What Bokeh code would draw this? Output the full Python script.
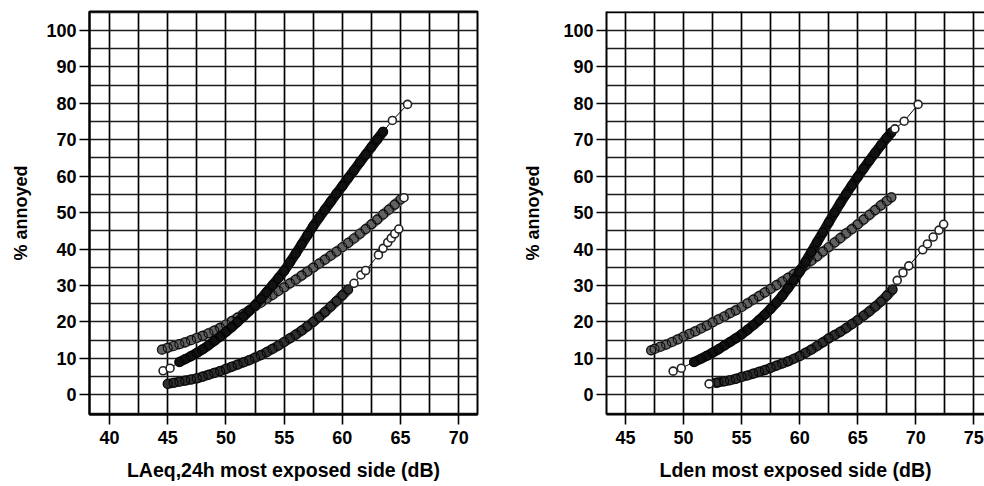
from bokeh.plotting import figure
from bokeh.layouts import row
from bokeh.models import FixedTicker, Range1d, Span
from bokeh.embed import file_html
from bokeh.resources import INLINE

# ---------------- data ----------------
pct_ticks = [0, 10, 20, 30, 40, 50, 60, 70, 80, 90, 100]
laeq_ticks = [40, 45, 50, 55, 60, 65, 70]
lden_ticks = [45, 50, 55, 60, 65, 70, 75]

# Left panel: LAeq,24h most exposed side
laeq_air_band_x = [46.0, 46.5, 47.0, 47.5, 48.0, 48.5, 49.0, 49.5, 50.0, 50.5, 51.0, 51.5,
                   52.0, 52.5, 53.0, 53.5, 54.0, 54.5, 55.0, 55.5, 56.0, 56.5, 57.0, 57.5,
                   58.0, 58.5, 59.0, 59.5, 60.0, 60.5, 61.0, 61.5, 62.0, 62.5, 63.0, 63.5]
laeq_air_band_y = [9.0, 9.8, 10.6, 11.5, 12.5, 13.6, 14.8, 16.0, 17.3, 18.6, 20.0, 21.5,
                   23.0, 24.6, 26.3, 28.2, 30.1, 32.0, 34.0, 36.4, 38.8, 41.3, 43.8, 46.3,
                   48.6, 50.8, 53.0, 55.2, 57.3, 59.5, 61.6, 63.8, 65.9, 68.0, 70.1, 72.2]
laeq_air_single_x = [44.6, 45.2, 64.3, 65.6]
laeq_air_single_y = [6.6, 7.3, 75.3, 79.7]

laeq_road_band_x = [44.5, 45.0, 45.5, 46.0, 46.5, 47.0, 47.5, 48.0, 48.5, 49.0, 49.5, 50.0,
                    50.5, 51.0, 51.5, 52.0, 52.5, 53.0, 53.5, 54.0, 54.5, 55.0, 55.5, 56.0,
                    56.5, 57.0, 57.5, 58.0, 58.5, 59.0, 59.5, 60.0, 60.5, 61.0, 61.5, 62.0,
                    62.5, 63.0, 63.5, 64.0, 64.5, 65.0]
laeq_road_band_y = [12.4, 12.9, 13.4, 13.9, 14.4, 15.0, 15.6, 16.2, 16.9, 17.6, 18.4, 19.3,
                    20.2, 21.2, 22.2, 23.2, 24.3, 25.3, 26.4, 27.4, 28.5, 29.5, 30.6, 31.6,
                    32.7, 33.8, 34.9, 36.0, 37.1, 38.2, 39.3, 40.5, 41.7, 42.9, 44.2, 45.5,
                    46.8, 48.1, 49.5, 50.8, 52.2, 53.6]
laeq_road_single_x = [65.3]
laeq_road_single_y = [54.1]

laeq_rail_band_x = [45.0, 45.5, 46.0, 46.5, 47.0, 47.5, 48.0, 48.5, 49.0, 49.5, 50.0, 50.5,
                    51.0, 51.5, 52.0, 52.5, 53.0, 53.5, 54.0, 54.5, 55.0, 55.5, 56.0, 56.5,
                    57.0, 57.5, 58.0, 58.5, 59.0, 59.5, 60.0, 60.5]
laeq_rail_band_y = [3.0, 3.3, 3.6, 3.9, 4.2, 4.5, 5.0, 5.5, 6.0, 6.5, 7.1, 7.7,
                    8.3, 8.9, 9.5, 10.2, 10.9, 11.7, 12.6, 13.5, 14.5, 15.5, 16.5, 17.6,
                    18.8, 20.0, 21.3, 22.7, 24.2, 25.7, 27.3, 28.9]
laeq_rail_single_x = [61.0, 61.6, 62.0, 63.1, 63.5, 63.9, 64.2, 64.5, 64.85]
laeq_rail_single_y = [30.6, 32.9, 34.1, 38.4, 40.2, 41.8, 43.0, 44.2, 45.5]

# Right panel: Lden most exposed side
lden_air_band_x = [50.9, 51.5, 52.0, 52.5, 53.0, 53.5, 54.0, 54.5, 55.0, 55.5, 56.0, 56.5,
                   57.0, 57.5, 58.0, 58.5, 59.0, 59.5, 60.0, 60.5, 61.0, 61.5, 62.0, 62.5,
                   63.0, 63.5, 64.0, 64.5, 65.0, 65.5, 66.0, 66.5, 67.0, 67.5, 67.9]
lden_air_band_y = [9.0, 9.9, 10.7, 11.6, 12.5, 13.5, 14.5, 15.5, 16.6, 17.8, 19.1, 20.5,
                   22.0, 23.6, 25.3, 27.2, 29.3, 31.5, 33.8, 36.5, 39.2, 41.9, 44.6, 47.3,
                   50.0, 52.6, 55.1, 57.5, 59.8, 62.1, 64.3, 66.4, 68.5, 70.5, 72.0]
lden_air_single_x = [49.1, 49.8, 68.2, 69.0, 70.2]
lden_air_single_y = [6.5, 7.3, 73.0, 75.1, 79.7]

lden_road_band_x = [47.2, 47.5, 48.0, 48.5, 49.0, 49.5, 50.0, 50.5, 51.0, 51.5, 52.0, 52.5,
                    53.0, 53.5, 54.0, 54.5, 55.0, 55.5, 56.0, 56.5, 57.0, 57.5, 58.0, 58.5,
                    59.0, 59.5, 60.0, 60.5, 61.0, 61.5, 62.0, 62.5, 63.0, 63.5, 64.0, 64.5,
                    65.0, 65.5, 66.0, 66.5, 67.0, 67.5, 67.9]
lden_road_band_y = [12.2, 12.6, 13.2, 13.8, 14.5, 15.2, 16.0, 16.7, 17.4, 18.2, 19.0, 19.9,
                    20.7, 21.5, 22.4, 23.2, 24.1, 25.1, 26.1, 27.1, 28.1, 29.1, 30.1, 31.1,
                    32.1, 33.1, 34.2, 35.5, 36.8, 38.0, 39.3, 40.5, 41.8, 43.0, 44.3, 45.5,
                    46.8, 48.1, 49.4, 50.7, 52.0, 53.2, 54.2]
lden_road_single_x = []
lden_road_single_y = []

lden_rail_band_x = [52.8, 53.0, 53.5, 54.0, 54.5, 55.0, 55.5, 56.0, 56.5, 57.0, 57.5, 58.0,
                    58.5, 59.0, 59.5, 60.0, 60.5, 61.0, 61.5, 62.0, 62.5, 63.0, 63.5, 64.0,
                    64.5, 65.0, 65.5, 66.0, 66.5, 67.0, 67.5, 68.0]
lden_rail_band_y = [3.3, 3.4, 3.7, 4.0, 4.4, 4.9, 5.3, 5.8, 6.3, 6.8, 7.4, 8.0,
                    8.6, 9.2, 9.9, 10.6, 11.5, 12.4, 13.4, 14.4, 15.5, 16.4, 17.3, 18.3,
                    19.4, 20.5, 21.7, 22.9, 24.2, 25.6, 27.2, 28.9]
lden_rail_single_x = [52.2, 68.4, 68.9, 69.4, 70.6, 71.0, 71.5, 72.0, 72.4]
lden_rail_single_y = [3.0, 31.4, 33.5, 35.4, 39.8, 41.4, 43.3, 45.2, 46.8]

# ---------------- styling ----------------
FONT = "Liberation Sans"
BAND_COLORS = {"air": "#111111", "road": "#626262", "rail": "#303030"}


def grid_positions(ticks, step):
    out = set()
    for t in ticks:
        out.add(t)
        out.add(t - step)
        out.add(t + step)
    return sorted(out)


def add_curve(p, bx, by, sx, sy, color):
    pts = sorted(list(zip(bx, by)) + list(zip(sx, sy)))
    p.line([a for a, _ in pts], [b for _, b in pts], line_color="black", line_width=1)
    p.line(bx, by, line_color=color, line_width=10, line_cap="round", line_join="round")
    p.scatter(bx, by, marker="circle", size=9, fill_color=None,
              line_color="black", line_width=1.2, line_alpha=0.85)
    if sx:
        p.scatter(sx, sy, marker="circle", size=8, fill_color="white",
                  line_color="#222222", line_width=1.6)


def make_panel(width, x0, x1, xticks, xlabel, border_left, border_right,
               ylabel_standoff, curves, outline=True):
    p = figure(width=width, height=486, x_range=Range1d(x0, x1),
               y_range=Range1d(-5.4, 105.2), output_backend="svg",
               toolbar_location=None, min_border_left=border_left,
               min_border_right=border_right, min_border_top=11, min_border_bottom=72)
    p.background_fill_color = "white"
    p.border_fill_color = "white"
    if outline:
        p.outline_line_color = "black"
        p.outline_line_width = 2
    else:
        p.outline_line_color = None
        p.add_layout(Span(location=105.2, dimension="width", line_color="black",
                          line_width=3))

    p.xaxis.ticker = FixedTicker(ticks=xticks)
    p.yaxis.ticker = FixedTicker(ticks=pct_ticks)
    p.xgrid.ticker = FixedTicker(ticks=grid_positions(xticks, 2.5))
    p.ygrid.ticker = FixedTicker(ticks=grid_positions(pct_ticks, 5))
    p.xgrid.grid_line_color = "black"
    p.xgrid.grid_line_width = 1.7
    p.ygrid.grid_line_color = "#1c1c1c"
    p.ygrid.grid_line_width = 1.7

    for ax in (p.xaxis[0], p.yaxis[0]):
        ax.axis_line_color = "black"
        ax.axis_line_width = 2
        ax.major_tick_line_color = "black"
        ax.major_tick_line_width = 1.6
        ax.major_tick_in = 0
        ax.major_tick_out = 10
        ax.minor_tick_line_color = None
        ax.major_label_text_font = FONT
        ax.major_label_text_font_style = "bold"
        ax.major_label_text_font_size = "18px"
        ax.major_label_text_color = "black"
        ax.axis_label_text_font = FONT
        ax.axis_label_text_font_style = "bold"
        ax.axis_label_text_color = "black"

    p.xaxis.major_label_standoff = 6
    p.yaxis.major_label_standoff = 3
    p.xaxis.axis_label = xlabel
    p.xaxis.axis_label_text_font_size = "19.5px"
    p.xaxis.axis_label_standoff = 12
    p.yaxis.axis_label = "% annoyed"
    p.yaxis.axis_label_text_font_size = "18px"
    p.yaxis.axis_label_standoff = ylabel_standoff

    for bx, by, sx, sy, key in curves:
        add_curve(p, bx, by, sx, sy, BAND_COLORS[key])
    return p


left = make_panel(487, 38.28, 71.61, laeq_ticks, "LAeq,24h most exposed side (dB)",
                  89, 10, 12,
                  [(laeq_road_band_x, laeq_road_band_y, laeq_road_single_x, laeq_road_single_y, "road"),
                   (laeq_rail_band_x, laeq_rail_band_y, laeq_rail_single_x, laeq_rail_single_y, "rail"),
                   (laeq_air_band_x, laeq_air_band_y, laeq_air_single_x, laeq_air_single_y, "air")])

right = make_panel(497, 43.36, 75.92, lden_ticks, "Lden most exposed side (dB)",
                   119, 0, 17,
                   [(lden_road_band_x, lden_road_band_y, lden_road_single_x, lden_road_single_y, "road"),
                    (lden_rail_band_x, lden_rail_band_y, lden_rail_single_x, lden_rail_single_y, "rail"),
                    (lden_air_band_x, lden_air_band_y, lden_air_single_x, lden_air_single_y, "air")],
                   outline=False)

layout = row(left, right)
open("out.html", "w").write(file_html(layout, INLINE))
